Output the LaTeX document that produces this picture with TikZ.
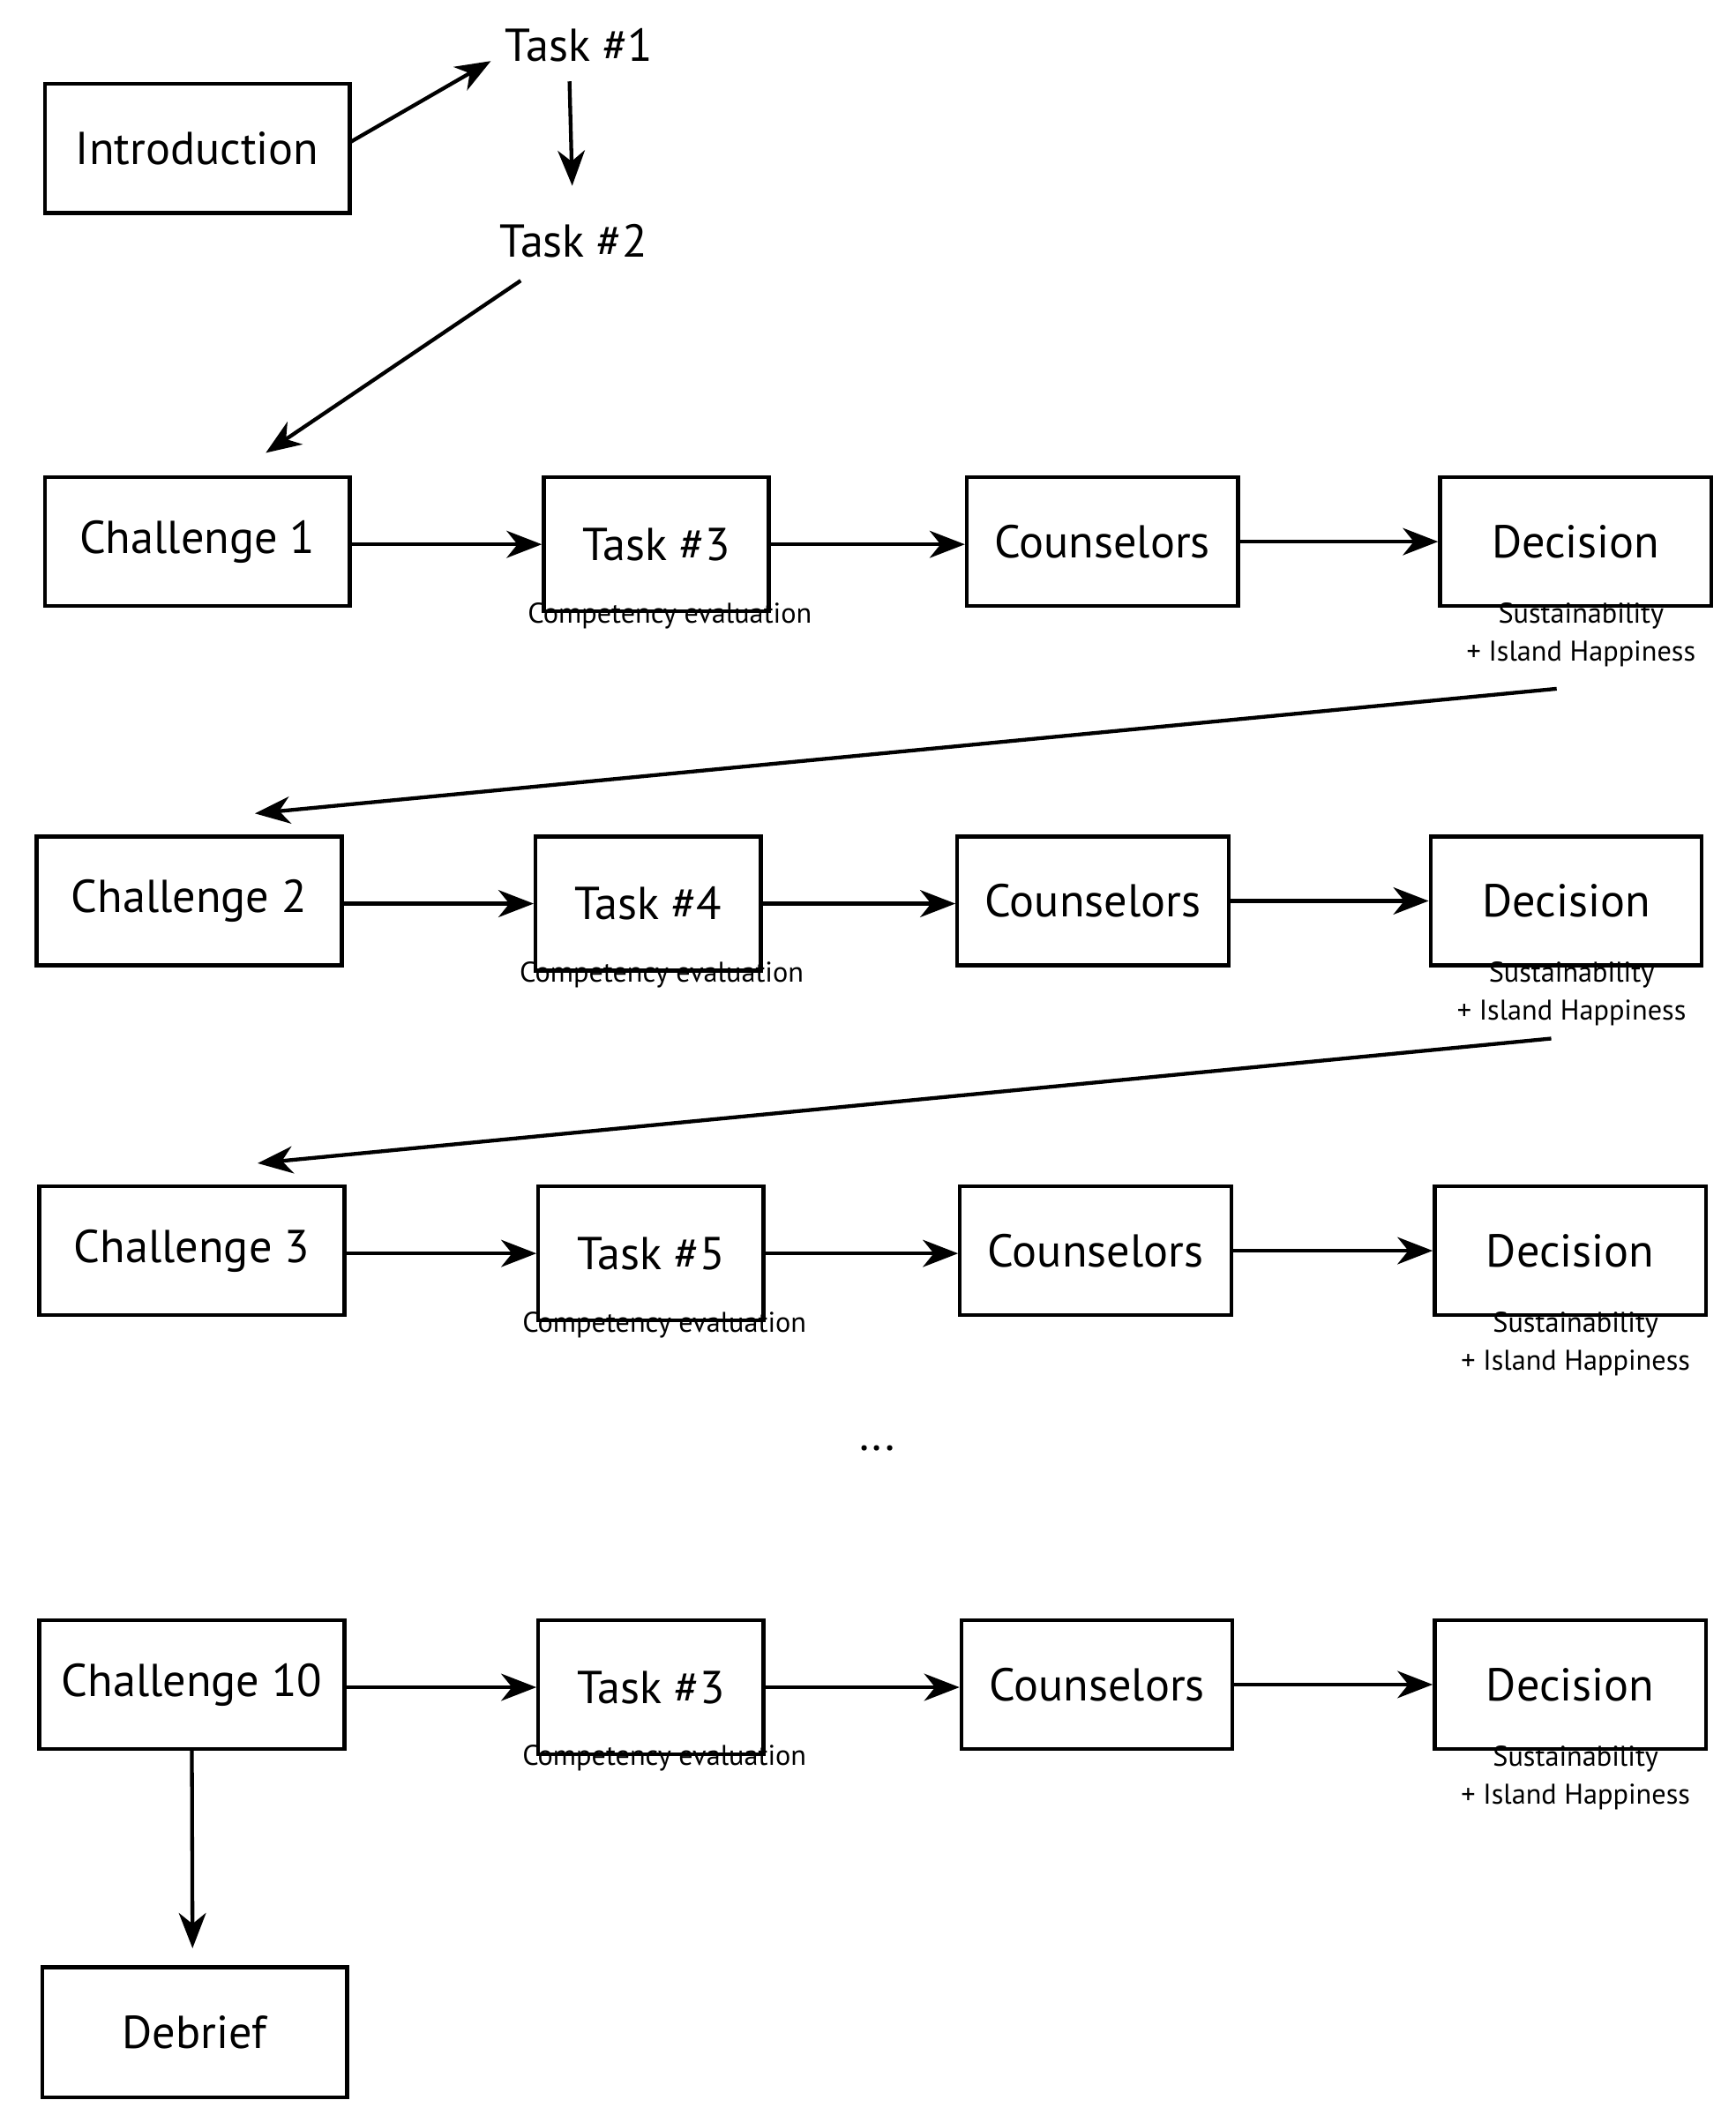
\documentclass[tikz,border=0pt]{standalone}
\usepackage{fontspec}
\setmainfont{PT Sans}
\usetikzlibrary{arrows.meta}
\begin{document}
\begin{tikzpicture}[x=0.5pt,y=-0.5pt,
  box/.style={draw,line width=1.4pt,font=\fontsize{17}{20}\selectfont,inner sep=0pt},
  lbl/.style={font=\fontsize{17}{20}\selectfont,inner sep=0pt},
  sm/.style={font=\fontsize{10.5}{13}\selectfont,inner sep=0pt,align=center},
  arr/.style={line width=1.4pt,-{Stealth[length=13pt,width=10pt,inset=4pt]}}]
\useasboundingbox[fill=white] (0,0) rectangle (1280,1560);
\newcommand{\bx}[6]{\node[box,minimum width={(#4-#2)*0.5pt},minimum height={(#5-#3)*0.5pt}] (#1) at ({(#2+#4)/2},{(#3+#5)/2}) {#6};}
\bx{intro}{33}{62}{258}{157}{Introduction}
\node[lbl] (t1) at (427,33) {Task \#1};
\node[lbl] (t2) at (423,178) {Task \#2};
\coordinate (a1s) at (258,105); \coordinate (a1e) at (362,45);
\draw[arr] (a1s) -- (a1e);
\coordinate (a2s) at (420,60); \coordinate (a2e) at (422,137);
\draw[arr] (a2s) -- (a2e);
\coordinate (a3s) at (384,207); \coordinate (a3e) at (196,334);
\draw[arr] (a3s) -- (a3e);
% rows
\newcommand{\row}[9]{%
\bx{c#1}{#2}{#3}{#2+225}{#3+95}{#9}
\bx{t#1}{#4}{#3+20}{#4+166}{#3+79}{#8}
\bx{k#1}{#5}{#3+14}{#5+200}{#3+81}{Counselors}
\bx{d#1}{#6}{#3+14}{#6+200}{#3+81}{Decision}
\draw[arr] (c#1.east|-t#1) -- (t#1.west);
\draw[arr] (t#1.east) -- (k#1.west|-t#1);
\draw[arr] (k#1.east) -- (d#1.west);
\node[sm] (ce#1) at ({#4+93},{#3+102}) {Competency evaluation};
\node[sm] (s#1) at ({#6+104},{#3+116}) {Sustainability\\[1pt]+ Island Happiness};
}
\row{1}{33}{352}{401}{713}{1062}{}{Task \#3}{Challenge 1}
\row{2}{27}{617}{395}{706}{1055}{}{Task \#4}{Challenge 2}
\row{3}{29}{875}{397}{708}{1058}{}{Task \#5}{Challenge 3}
\row{4}{29}{1195}{397}{709}{1058}{}{Task \#3}{Challenge 10}
\coordinate (b1s) at (1148,508); \coordinate (b1e) at (188,600);
\draw[arr] (b1s) -- (b1e);
\coordinate (b2s) at (1144,766); \coordinate (b2e) at (190,858);
\draw[arr] (b2s) -- (b2e);
\node[lbl] (dots) at (647,1068) {...};
\bx{deb}{31}{1451}{256}{1547}{Debrief}
\coordinate (de) at (142,1437);
\draw[arr] (c4.south) -- (de);
\end{tikzpicture}
\end{document}
